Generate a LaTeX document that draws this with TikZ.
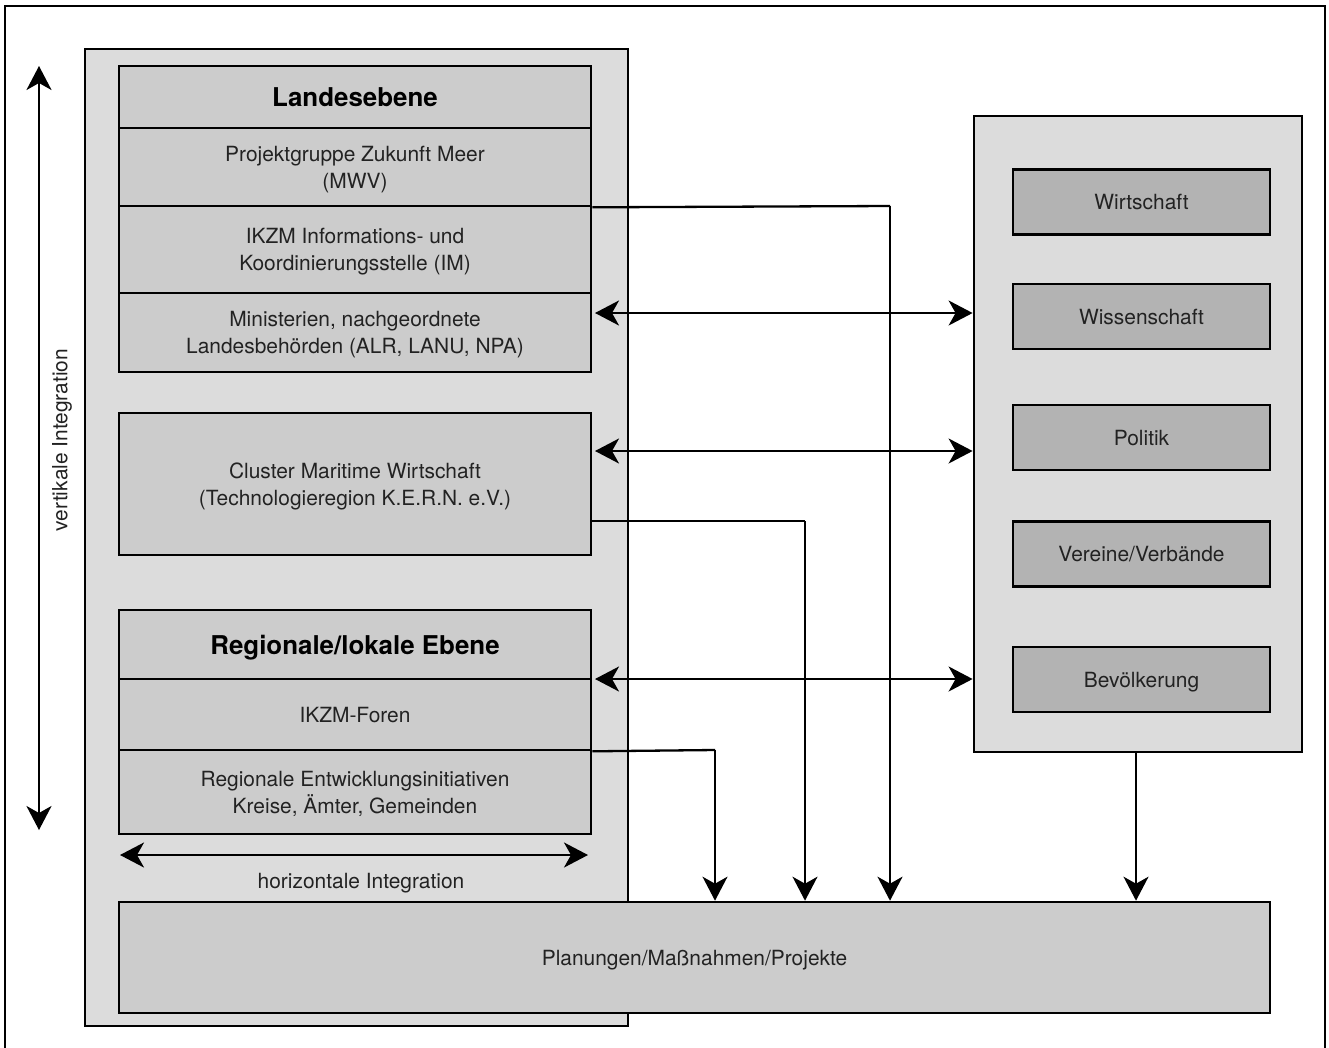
\documentclass[tikz,border=0pt]{standalone}
\usepackage{fontspec}
\setmainfont{TeX Gyre Heros}
\usetikzlibrary{arrows.meta}
\definecolor{panelgray}{HTML}{DCDCDC}
\definecolor{boxgray}{HTML}{CCCCCC}
\definecolor{darkbox}{HTML}{B3B3B3}
\definecolor{txt}{HTML}{222222}
\begin{document}
\begin{tikzpicture}[x=1bp,y=-1bp,
  frame/.style={line width=2bp},
  panel/.style={draw, line width=2.8bp, fill=panelgray, inner sep=0pt},
  box/.style={draw, line width=2.6bp, fill=boxgray, inner sep=0pt, align=center,
    text=txt, font=\fontsize{21}{27}\selectfont, minimum width=472bp, text depth=-2bp},
  head/.style={box, text=black, font=\fontsize{26}{30}\selectfont\bfseries},
  rbox/.style={draw, line width=2.6bp, fill=darkbox, inner sep=0pt, align=center,
    text=txt, font=\fontsize{21}{27}\selectfont, minimum width=257bp, minimum height=65bp, text depth=-1bp},
  lbl/.style={text=txt, font=\fontsize{21}{27}\selectfont, inner sep=0pt},
  arr/.style={line width=2.3bp, -{Stealth[length=24bp,width=25bp,inset=7bp]}},
  darr/.style={line width=2.3bp, {Stealth[length=24bp,width=25bp,inset=7bp]}-{Stealth[length=24bp,width=25bp,inset=7bp]}},
  line/.style={line width=2.3bp}
]
\useasboundingbox (0,0) rectangle (1329,1047);
\fill[white] (0,0) rectangle (1329,1047);
\draw[frame] (5,1050) -- (5,6) -- (1325,6) -- (1325,1050);

% left panel
\node[panel, minimum width=543bp, minimum height=977bp] (lpanel) at (356.5,537.5) {};

% Landesebene stack
\node[head, minimum height=62bp] (lhead) at (355,97) {Landesebene};
\node[box, minimum height=78bp] (mwv) at (355,167) {Projektgruppe Zukunft Meer\\(MWV)};
\node[box, minimum height=87bp] (im) at (355,249.5) {IKZM Informations- und\\Koordinierungsstelle (IM)};
\node[box, minimum height=79bp] (min) at (355,332.5) {Ministerien, nachgeordnete\\Landesbehörden (ALR, LANU, NPA)};

% Cluster
\node[box, minimum height=142bp] (cluster) at (355,484) {Cluster Maritime Wirtschaft\\(Technologieregion K.E.R.N. e.V.)};

% Regional stack
\node[head, minimum height=69bp] (rhead) at (355,644.5) {Regionale/lokale Ebene};
\node[box, minimum height=71bp] (foren) at (355,714.5) {IKZM-Foren};
\node[box, minimum height=84bp] (reg) at (355,792) {Regionale Entwicklungsinitiativen\\Kreise, Ämter, Gemeinden};

% Planungen
\node[box, minimum width=1151bp, minimum height=111bp] (plan) at (694.5,957.5) {Planungen/Maßnahmen/Projekte};

% right panel
\node[panel, minimum width=328bp, minimum height=636bp] (rpanel) at (1138,434) {};
\node[rbox] (wirt) at (1141.5,202) {Wirtschaft};
\node[rbox] (wiss) at (1141.5,316.5) {Wissenschaft};
\node[rbox] (pol) at (1141.5,437.5) {Politik};
\node[rbox] (ver) at (1141.5,554) {Vereine/Verbände};
\node[rbox] (bev) at (1141.5,679.5) {Bevölkerung};

% vertical integration
\coordinate (vtop) at (39,66);
\coordinate (vbot) at (39,830);
\draw[darr] (vbot) -- (vtop);
\node[lbl, rotate=90] (vlabel) at (62,440) {vertikale Integration};

% horizontal integration
\coordinate (hl) at (120,855);
\coordinate (hr) at (588,855);
\draw[darr] (hl) -- (hr);
\node[lbl] (hlabel) at (361,883) {horizontale Integration};

% double arrows
\coordinate (a1) at (595,313);
\coordinate (a2) at (595,451);
\coordinate (a3) at (595,679);
\draw[darr] (a1) -- (rpanel.west |- a1);
\draw[darr] (a2) -- (rpanel.west |- a2);
\draw[darr] (a3) -- (rpanel.west |- a3);

% connectors to Planungen
\coordinate (p1) at (890,206);
\coordinate (p2) at (805,521);
\coordinate (p3) at (715,750);
\draw[line] (mwv.south east) -- (p1);
\draw[arr] (p1) -- (p1 |- plan.north);
\draw[line] (cluster.east |- p2) -- (p2);
\draw[arr] (p2) -- (p2 |- plan.north);
\draw[line] (foren.south east) -- (p3);
\draw[arr] (p3) -- (p3 |- plan.north);
\coordinate (p4) at (1136,752);
\draw[arr] (p4) -- (p4 |- plan.north);
\end{tikzpicture}
\end{document}
